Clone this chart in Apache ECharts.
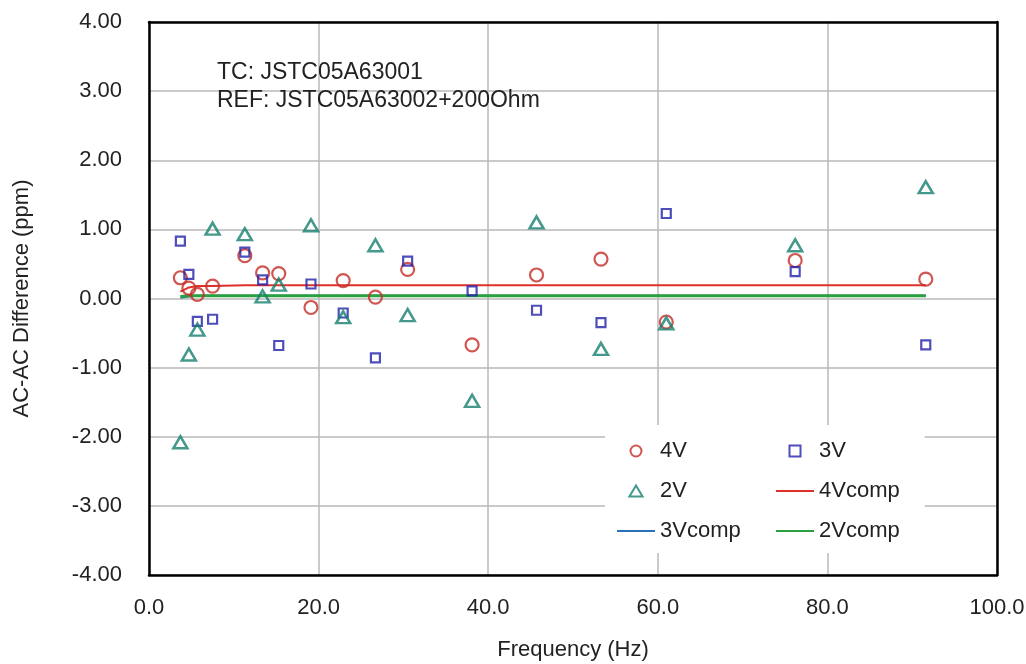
<!DOCTYPE html>
<html>
<head>
<meta charset="utf-8">
<title>AC-AC Difference vs Frequency</title>
<script src="https://cdn.jsdelivr.net/npm/echarts@6/dist/echarts.min.js"></script>
<style>
  html, body { margin: 0; padding: 0; background: #fff; }
  #chart { width: 1026px; height: 664px; }
</style>
</head>
<body>
<div id="chart"></div>
<script>
// Measurement frequencies (Hz)
const freq = [3.7, 4.7, 5.7, 7.5, 11.3, 13.4, 15.3, 19.1, 22.9, 26.7, 30.5, 38.1, 45.7, 53.3, 61.0, 76.2, 91.6];

// Measured AC-AC differences (ppm) per test voltage
const v4 = [0.30, 0.15, 0.06, 0.18, 0.62, 0.37, 0.36, -0.13, 0.26, 0.02, 0.42, -0.67, 0.34, 0.57, -0.34, 0.55, 0.28];
const v3 = [0.83, 0.35, -0.33, -0.30, 0.67, 0.27, -0.68, 0.21, -0.21, -0.86, 0.54, 0.11, -0.17, -0.35, 1.23, 0.39, -0.67];
const v2 = [-2.08, -0.81, -0.45, 1.01, 0.93, 0.03, 0.20, 1.06, -0.27, 0.77, -0.24, -1.48, 1.10, -0.73, -0.36, 0.77, 1.61];

// Computed (model) curves
const v4comp = [0.10, 0.16, 0.18, 0.18, 0.19, 0.19, 0.19, 0.19, 0.19, 0.19, 0.19, 0.19, 0.19, 0.19, 0.19, 0.19, 0.19];
const v3comp = [0.01, 0.03, 0.04, 0.04, 0.04, 0.04, 0.04, 0.04, 0.04, 0.04, 0.04, 0.04, 0.04, 0.04, 0.04, 0.04, 0.04];
const v2comp = [0.03, 0.04, 0.04, 0.04, 0.04, 0.04, 0.04, 0.04, 0.04, 0.04, 0.04, 0.04, 0.04, 0.04, 0.04, 0.04, 0.04];

// Axis settings
const xTicks = { min: 0, max: 100, interval: 20 };
const yTicks = { min: -4, max: 4, interval: 1 };

const annotation = ['TC: JSTC05A63001', 'REF: JSTC05A63002+200Ohm'];

const FONT = "'Liberation Sans', Arial, sans-serif";
const pair = (ys) => freq.map((f, i) => [f, ys[i]]);

// Legend glyphs (paths keep their proportions inside the icon box)
const LINE_ICON = 'path://M0,0H38V2H0Z';
const SQUARE_ICON = 'path://M0,0H10V10H0Z';
const TRIANGLE_ICON = 'path://M6,0L12,10H0Z';

const chart = echarts.init(document.getElementById('chart'), null, { renderer: 'canvas' });

const frameAxis = {
  axisLine: { show: true, onZero: false, lineStyle: { color: '#000', width: 2.5 } },
  axisTick: { show: false },
  axisLabel: { show: false },
  splitLine: { show: false }
};

const legendCommon = {
  orient: 'vertical',
  itemGap: 18, itemWidth: 38, itemHeight: 11,
  symbolKeepAspect: true,
  textStyle: { fontSize: 22, color: '#222', fontFamily: FONT }
};

chart.setOption({
  animation: false,
  backgroundColor: '#fff',
  textStyle: { fontFamily: FONT },
  title: {
    text: annotation.join('\n'),
    left: 217,
    top: 59,
    padding: 0,
    textStyle: { fontSize: 23, fontWeight: 'normal', color: '#222', lineHeight: 28, fontFamily: FONT }
  },
  grid: { left: 149, right: 29, top: 22, bottom: 89, outerBoundsMode: 'none', containLabel: false },
  xAxis: [
    {
      type: 'value', position: 'bottom',
      min: xTicks.min, max: xTicks.max, interval: xTicks.interval,
      name: 'Frequency (Hz)', nameLocation: 'middle', nameGap: 64,
      nameTextStyle: { fontSize: 22, color: '#222', fontFamily: FONT },
      axisLine: { show: true, onZero: false, lineStyle: { color: '#000', width: 2.5 } },
      axisTick: { show: false },
      axisLabel: { fontSize: 22, color: '#222', margin: 22, fontFamily: FONT, formatter: (v) => v.toFixed(1) },
      splitLine: { show: true, lineStyle: { color: '#b8b8b8', width: 1.5 } }
    },
    Object.assign({ type: 'value', position: 'top', min: xTicks.min, max: xTicks.max }, frameAxis)
  ],
  yAxis: [
    {
      type: 'value', position: 'left',
      min: yTicks.min, max: yTicks.max, interval: yTicks.interval,
      name: 'AC-AC Difference (ppm)', nameLocation: 'middle', nameGap: 116,
      nameTextStyle: { fontSize: 22, color: '#222', fontFamily: FONT },
      axisLine: { show: true, onZero: false, lineStyle: { color: '#000', width: 2.5 } },
      axisTick: { show: false },
      axisLabel: { fontSize: 22, color: '#222', margin: 27, fontFamily: FONT, formatter: (v) => v.toFixed(2) },
      splitLine: { show: true, lineStyle: { color: '#b8b8b8', width: 1.5 } }
    },
    Object.assign({ type: 'value', position: 'right', min: yTicks.min, max: yTicks.max }, frameAxis)
  ],
  legend: [
    Object.assign({}, legendCommon, {
      left: 605, top: 425,
      padding: [15, 184, 11, 12],
      backgroundColor: '#fff',
      data: [
        { name: '4V', icon: 'circle' },
        { name: '2V', icon: TRIANGLE_ICON },
        { name: '3Vcomp', icon: LINE_ICON }
      ]
    }),
    Object.assign({}, legendCommon, {
      left: 776, top: 440,
      padding: 0,
      data: [
        { name: '3V', icon: SQUARE_ICON },
        { name: '4Vcomp', icon: LINE_ICON },
        { name: '2Vcomp', icon: LINE_ICON }
      ]
    })
  ],
  series: [
    {
      name: '4Vcomp', type: 'line', data: pair(v4comp), symbol: 'none', z: 1,
      lineStyle: { color: '#e0302a', width: 2 }, itemStyle: { color: '#e0302a' }
    },
    {
      name: '3Vcomp', type: 'line', data: pair(v3comp), symbol: 'none', z: 1,
      lineStyle: { color: '#2a72b8', width: 2 }, itemStyle: { color: '#2a72b8' }
    },
    {
      name: '2Vcomp', type: 'line', data: pair(v2comp), symbol: 'none', z: 1,
      lineStyle: { color: '#2aa040', width: 3 }, itemStyle: { color: '#2aa040' }
    },
    {
      name: '4V', type: 'scatter', data: pair(v4), symbol: 'circle', symbolSize: 13, z: 3,
      itemStyle: { color: 'rgba(255,255,255,0)', borderColor: '#c42c26', borderWidth: 2.2 }
    },
    {
      name: '3V', type: 'scatter', data: pair(v3), symbol: 'rect', symbolSize: 9, z: 3,
      itemStyle: { color: 'rgba(255,255,255,0)', borderColor: '#2222aa', borderWidth: 2.2 }
    },
    {
      name: '2V', type: 'scatter', data: pair(v2), symbol: 'triangle', symbolSize: [14, 12], z: 3,
      itemStyle: { color: 'rgba(255,255,255,0)', borderColor: '#15806f', borderWidth: 2.5 }
    }
  ]
});
</script>
</body>
</html>
